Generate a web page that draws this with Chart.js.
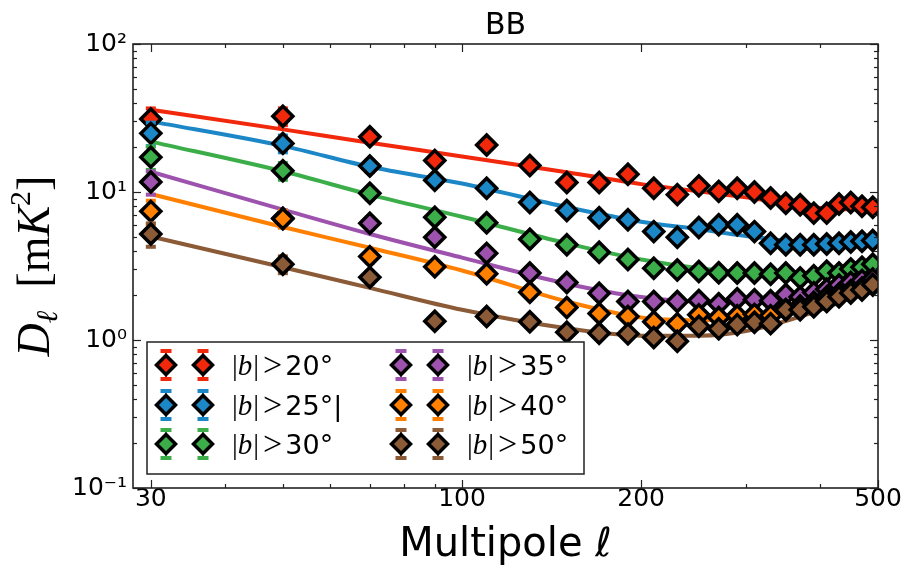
<!DOCTYPE html>
<html lang="en">
<head>
  <meta charset="UTF-8">
  <title>BB</title>
  <script src="https://cdn.jsdelivr.net/npm/chart.js"></script>
  <style>
    body { margin: 0; background: #fff; }
    .wrap { position: relative; width: 912px; height: 566px; }
  </style>
</head>
<body>
  <div class="wrap"><canvas id="bbChart" width="912" height="566"></canvas></div>

  <script>
    // Multipole bins
    const ells = [30, 50, 70, 90, 110, 130, 150, 170, 190, 210, 230, 250, 270, 290, 310, 330, 350, 370, 390, 410, 430, 450, 470, 490];

    // D_ell per latitude cut (mK^2)
    const dl20 = [31.1, 32.5, 23.6, 16.3, 20.8, 15.1, 11.6, 11.6, 13.2, 10.6, 9.6, 11.0, 10.1, 10.6, 10.0, 9.1, 8.4, 8.2, 7.2, 7.2, 8.3, 8.5, 8.0, 7.9];
    const dl25 = [24.9, 21.3, 15.0, 12.0, 10.6, 8.5, 7.5, 6.7, 6.5, 5.4, 4.95, 5.75, 6.0, 6.0, 5.4, 4.5, 4.4, 4.4, 4.4, 4.45, 4.5, 4.6, 4.65, 4.7];
    const dl30 = [17.2, 13.9, 9.8, 6.75, 6.2, 4.8, 4.4, 3.92, 3.5, 3.05, 2.97, 2.9, 2.85, 2.84, 2.84, 2.78, 2.84, 2.62, 2.72, 2.92, 2.84, 3.02, 3.1, 3.25];
    const dl35 = [11.7, 6.65, 6.15, 4.95, 3.85, 2.84, 2.45, 2.07, 1.82, 1.82, 1.82, 1.85, 1.76, 1.9, 1.87, 1.84, 2.03, 1.95, 2.09, 2.2, 2.35, 2.45, 2.52, 2.58];
    const dl40 = [7.4, 6.6, 3.66, 3.13, 2.8, 2.1, 1.66, 1.51, 1.44, 1.33, 1.29, 1.48, 1.42, 1.46, 1.49, 1.46, 1.6, 1.7, 1.8, 1.95, 2.05, 2.15, 2.25, 2.35];
    const dl50 = [5.2, 3.25, 2.65, 1.34, 1.44, 1.33, 1.13, 1.11, 1.1, 1.04, 0.98, 1.24, 1.19, 1.27, 1.32, 1.29, 1.6, 1.6, 1.68, 1.82, 1.96, 2.08, 2.18, 2.37];

    // fractional error bars per bin
    const errFrac = [0.18, 0.13, 0.09, 0.07, 0.06, 0.05, 0.05, 0.04, 0.04, 0.04, 0.035, 0.035, 0.03, 0.03, 0.03, 0.03, 0.03, 0.03, 0.03, 0.03, 0.03, 0.03, 0.03, 0.03];

    // fitted model curves, read at these multipoles
    const fitEll = [30, 50, 70, 100, 150, 200, 250, 300, 400, 500];
    const fit20 = [36, 26.5, 21.5, 17.4, 13.6, 11.3, 10.1, 9.2, 7.8, 7.6];
    const fit25 = [30, 20.5, 14.8, 11.4, 7.9, 6.3, 5.6, 5.05, 4.5, 4.6];
    const fit30 = [21.9, 13.8, 9.6, 6.8, 4.5, 3.5, 3.05, 2.85, 2.8, 3.2];
    const fit35 = [13.7, 7.6, 5.2, 3.6, 2.4, 1.95, 1.82, 1.82, 2.05, 2.55];
    const fit40 = [9.7, 5.8, 4.2, 2.95, 1.82, 1.42, 1.36, 1.42, 1.75, 2.35];
    const fit50 = [5.0, 3.1, 2.25, 1.6, 1.2, 1.07, 1.07, 1.15, 1.6, 2.3];

    const seriesLabels = ['|b| > 20°', '|b| > 25°|', '|b| > 30°', '|b| > 35°', '|b| > 40°', '|b| > 50°'];
    const colors = ['#f2280c', '#1c87c6', '#3bae4a', '#9d52ad', '#ff8000', '#8b5a37'];
    const points = [dl20, dl25, dl30, dl35, dl40, dl50];
    const fits = [fit20, fit25, fit30, fit35, fit40, fit50];

    // axis ticks
    const xTicks = [30, 100, 200, 500];
    const xTickLabels = ['30', '100', '200', '500'];
    const xMinor = [40, 50, 60, 70, 80, 90, 300, 400];
    const yTicks = [0.1, 1, 10, 100];
    const yTickLabels = ['10⁻¹', '10⁰', '10¹', '10²'];
    const yMinor = [0.2, 0.3, 0.4, 0.5, 0.6, 0.7, 0.8, 0.9, 2, 3, 4, 5, 6, 7, 8, 9, 20, 30, 40, 50, 60, 70, 80, 90];

    const SANS = "'DejaVu Sans', sans-serif";
    const SERIF = "'Liberation Serif', 'DejaVu Serif', serif";

    function diamond(ctx, x, y, r, fill) {
      ctx.beginPath();
      ctx.moveTo(x - r, y);
      ctx.lineTo(x, y - r);
      ctx.lineTo(x + r, y);
      ctx.lineTo(x, y + r);
      ctx.closePath();
      ctx.fillStyle = fill;
      ctx.fill();
      ctx.lineWidth = 3.5;
      ctx.strokeStyle = '#000';
      ctx.stroke();
    }

    // error bars drawn just under each marker set
    const errorBars = {
      id: 'errorBars',
      beforeDatasetDraw(chart, args) {
        const ds = chart.data.datasets[args.index];
        if (!ds.errs) return;
        const ctx = chart.ctx, yScale = chart.scales.y;
        ctx.save();
        ctx.fillStyle = ds.pointBackgroundColor;
        args.meta.data.forEach((pt, i) => {
          const v = ds.data[i].y, e = ds.errs[i];
          const top = yScale.getPixelForValue(v * (1 + e));
          const bot = yScale.getPixelForValue(v * (1 - e));
          ctx.fillRect(pt.x - 1, top, 2, bot - top);
          ctx.fillRect(pt.x - 5, top - 2, 10, 4);
          ctx.fillRect(pt.x - 5, bot - 2, 10, 4);
        });
        ctx.restore();
      }
    };

    // legend box in the lower left, two markers per entry like matplotlib
    const legendBox = {
      id: 'legendBox',
      afterDatasetsDraw(chart) {
        const ctx = chart.ctx, a = chart.chartArea;
        const left = a.left + 14, bottom = a.bottom - 14;
        const w = 437, h = 132, top = bottom - h;
        ctx.save();
        ctx.fillStyle = '#fff';
        ctx.fillRect(left, top, w, h);
        ctx.lineWidth = 1.5;
        ctx.strokeStyle = '#222';
        ctx.strokeRect(left, top, w, h);
        const rowY = [top + 23, top + 63, top + 102];
        const colX = [left + 19, left + 254];
        seriesLabels.forEach((lab, i) => {
          const cx = colX[Math.floor(i / 3)], cy = rowY[i % 3];
          [cx, cx + 37].forEach(mx => {
            ctx.fillStyle = colors[i];
            ctx.fillRect(mx - 1, cy - 14, 2, 28);
            ctx.fillRect(mx - 5.5, cy - 16, 11, 4);
            ctx.fillRect(mx - 5.5, cy + 12, 11, 4);
            diamond(ctx, mx, cy, 9.5, colors[i]);
          });
          drawLabel(ctx, cx + 66, cy, lab);
        });
        ctx.restore();
      }
    };

    function drawLabel(ctx, x, y, lab) {
      const parts = lab.split('>');
      const lhs = parts[0].trim(), rhs = parts[1].trim();
      const base = y + 10;
      ctx.fillStyle = '#000';
      ctx.textBaseline = 'alphabetic';
      ctx.textAlign = 'left';
      let px = x;
      for (const ch of lhs) {
        ctx.font = (ch === 'b' ? 'italic ' : '') + '29px ' + SERIF;
        ctx.fillText(ch, px, base);
        px += ctx.measureText(ch).width + (ch === 'b' ? 1 : 0);
      }
      px += 4;
      ctx.font = '34px ' + SERIF;
      ctx.fillText('>', px, base + 1);
      px += ctx.measureText('>').width + 3;
      ctx.font = '27px ' + SANS;
      ctx.fillText(rhs, px, base);
    }

    // inward ticks on all four sides plus the frame
    const frameTicks = {
      id: 'frameTicks',
      afterDraw(chart) {
        const ctx = chart.ctx, a = chart.chartArea, xs = chart.scales.x, ys = chart.scales.y;
        ctx.save();
        ctx.strokeStyle = '#222';
        ctx.lineWidth = 1.2;
        const seg = (x1, y1, x2, y2) => { ctx.beginPath(); ctx.moveTo(x1, y1); ctx.lineTo(x2, y2); ctx.stroke(); };
        const xt = (vals, len) => vals.forEach(v => {
          const p = Math.round(xs.getPixelForValue(v)) + 0.5;
          seg(p, a.bottom, p, a.bottom - len);
          seg(p, a.top, p, a.top + len);
        });
        const yt = (vals, len) => vals.forEach(v => {
          const p = Math.round(ys.getPixelForValue(v)) + 0.5;
          seg(a.left, p, a.left + len, p);
          seg(a.right, p, a.right - len, p);
        });
        xt(xTicks, 8); xt(xMinor, 4);
        yt(yTicks, 8); yt(yMinor, 4);
        ctx.lineWidth = 1.6;
        ctx.strokeRect(a.left, a.top, a.width, a.height);

        // y axis title: D_ell [mK^2]
        ctx.translate(49, (a.top + a.bottom) / 2);
        ctx.rotate(-Math.PI / 2);
        ctx.fillStyle = '#000';
        ctx.textBaseline = 'alphabetic';
        const pieces = [
          { t: 'D', f: 'italic 46px ' + SERIF, dy: 0 },
          { t: 'ℓ', f: 'italic 30px ' + SERIF, dy: 8 },
          { t: '  ', f: '46px ' + SERIF, dy: 0 },
          { t: '[m', f: '46px ' + SERIF, dy: 0 },
          { t: 'K', f: 'italic 46px ' + SERIF, dy: 0 },
          { t: '2', f: '30px ' + SERIF, dy: -19 },
          { t: ']', f: '46px ' + SERIF, dy: 0 }
        ];
        let total = 0;
        pieces.forEach(p => { ctx.font = p.f; p.w = ctx.measureText(p.t).width; total += p.w; });
        let px = -total / 2;
        pieces.forEach(p => { ctx.font = p.f; ctx.fillText(p.t, px, p.dy); px += p.w; });
        ctx.restore();
      }
    };

    const datasets = [];
    fits.forEach((f, i) => {
      datasets.push({
        type: 'line',
        data: fitEll.map((l, j) => ({ x: l, y: f[j] })),
        borderColor: colors[i],
        borderWidth: 4,
        pointRadius: 0,
        cubicInterpolationMode: 'monotone',
        fill: false,
        order: 20
      });
    });
    points.forEach((p, i) => {
      datasets.push({
        type: 'scatter',
        label: seriesLabels[i],
        data: ells.map((l, j) => ({ x: l, y: p[j] })),
        errs: errFrac,
        pointStyle: 'rectRot',
        pointRadius: 10,
        pointBorderWidth: 3.5,
        pointBorderColor: '#000',
        pointBackgroundColor: colors[i],
        showLine: false,
        order: 10 - i
      });
    });

    new Chart(document.getElementById('bbChart'), {
      data: { datasets },
      options: {
        responsive: false,
        animation: false,
        devicePixelRatio: 1,
        layout: { padding: { left: 0, right: 34, top: 0, bottom: 0 } },
        plugins: {
          legend: { display: false },
          tooltip: { enabled: false },
          title: {
            display: true,
            text: 'BB',
            fullSize: false,
            color: '#000',
            font: { family: SANS, size: 30, weight: 'normal' },
            padding: { top: 8, bottom: 0 }
          }
        },
        scales: {
          x: {
            type: 'logarithmic',
            min: 28,
            max: 500,
            afterBuildTicks: s => { s.ticks = xTicks.map(v => ({ value: v })); },
            afterFit: s => { s.height = 78; },
            grid: { display: false, drawTicks: false },
            border: { display: false },
            ticks: {
              autoSkip: false,
              maxRotation: 0,
              padding: -4,
              color: '#000',
              font: { family: SANS, size: 25 },
              callback: (v, i) => xTickLabels[i]
            },
            title: {
              display: true,
              text: 'Multipole ℓ',
              color: '#000',
              font: { family: SANS, size: 40, lineHeight: 1 },
              padding: { top: 0, bottom: 0 }
            }
          },
          y: {
            type: 'logarithmic',
            min: 0.1,
            max: 100,
            afterBuildTicks: s => { s.ticks = yTicks.map(v => ({ value: v })); },
            afterFit: s => { s.width = 133; },
            grid: { display: false, drawTicks: false },
            border: { display: false },
            ticks: {
              autoSkip: false,
              padding: 6,
              color: '#000',
              font: { family: SANS, size: 25 },
              callback: (v, i) => yTickLabels[i]
            }
          }
        }
      },
      plugins: [errorBars, legendBox, frameTicks]
    });
  </script>
</body>
</html>
